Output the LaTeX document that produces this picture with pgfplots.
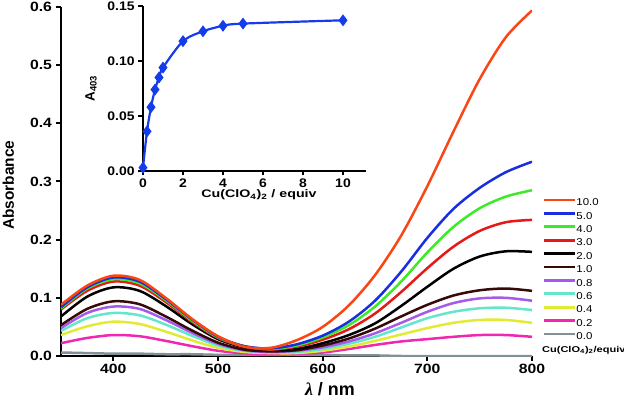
\documentclass[border=0pt]{standalone}
\usepackage{pgfplots}
\pgfplotsset{compat=1.18}
\usepackage{pgfplotstable}
\usepackage{fontspec}
\setmainfont{Liberation Sans}
\newfontfamily\seriffont{Liberation Serif}

\definecolor{c100}{RGB}{250,70,20}
\definecolor{c50}{RGB}{25,45,225}
\definecolor{c40}{RGB}{60,235,40}
\definecolor{c30}{RGB}{230,25,25}
\definecolor{c20}{RGB}{0,0,0}
\definecolor{c10}{RGB}{55,10,10}
\definecolor{c08}{RGB}{165,90,235}
\definecolor{c06}{RGB}{100,230,205}
\definecolor{c04}{RGB}{225,235,50}
\definecolor{c02}{RGB}{240,40,175}
\definecolor{c00}{RGB}{130,145,150}
\definecolor{iblue}{RGB}{20,60,235}

\pgfplotstableread{
lam c00 c02 c04 c06 c08 c10 c20 c30 c40 c50 c100
350 0.006 0.022 0.036 0.043 0.048 0.053 0.068 0.080 0.082 0.084 0.088
375 0.005 0.031 0.051 0.065 0.074 0.081 0.102 0.112 0.116 0.118 0.121
400 0.004 0.036 0.059 0.074 0.085 0.094 0.118 0.128 0.132 0.135 0.138
425 0.004 0.034 0.055 0.070 0.081 0.089 0.112 0.121 0.125 0.128 0.131
450 0.003 0.026 0.042 0.054 0.062 0.068 0.086 0.093 0.096 0.098 0.100
475 0.003 0.017 0.027 0.035 0.040 0.044 0.055 0.059 0.061 0.063 0.064
500 0.002 0.009 0.014 0.018 0.021 0.023 0.029 0.031 0.032 0.033 0.034
525 0.002 0.0045 0.007 0.009 0.010 0.011 0.015 0.016 0.017 0.017 0.016
550 0.002 0.003 0.005 0.006 0.007 0.008 0.010 0.011 0.012 0.013 0.014
575 0.002 0.004 0.005 0.007 0.009 0.010 0.012 0.016 0.018 0.020 0.027
600 0.002 0.006 0.009 0.012 0.015 0.018 0.022 0.028 0.032 0.035 0.050
625 0.001 0.012 0.016 0.021 0.025 0.030 0.036 0.046 0.053 0.059 0.087
650 0.001 0.019 0.026 0.033 0.039 0.047 0.056 0.073 0.085 0.095 0.139
675 0.000 0.025 0.037 0.049 0.057 0.068 0.086 0.110 0.128 0.145 0.207
700 0.000 0.029 0.048 0.065 0.076 0.088 0.119 0.151 0.178 0.203 0.292
725 0.000 0.033 0.057 0.076 0.091 0.104 0.150 0.188 0.222 0.253 0.386
750 0.000 0.036 0.062 0.082 0.099 0.113 0.171 0.215 0.254 0.289 0.476
775 0.000 0.036 0.062 0.083 0.100 0.116 0.180 0.230 0.274 0.316 0.548
800 0.000 0.033 0.057 0.079 0.095 0.112 0.179 0.234 0.285 0.334 0.594
}\spectra

\pgfplotstableread{
eq A
0 0.003
0.2 0.036
0.4 0.058
0.6 0.074
0.8 0.085
1 0.094
2 0.118
3 0.127
4 0.132
5 0.134
10 0.137
}\titration

\begin{document}
\begin{tikzpicture}
\useasboundingbox (-61bp,-47bp) rectangle (563bp,356bp);
\begin{axis}[
  name=main,
  at={(0,0)}, anchor=south west,
  scale only axis, width=471bp, height=349bp,
  xmin=350, xmax=800, ymin=0, ymax=0.6,
  axis x line*=bottom, axis y line*=left,
  axis line style={line width=2.5bp},
  every tick/.style={black, line width=2bp},
  major tick length=5bp,
  tick align=outside,
  xtick={400,500,600,700,800},
  ytick={0,0.1,0.2,0.3,0.4,0.5,0.6},
  /pgf/number format/assume math mode=true,
  tick label style={font=\bfseries\fontsize{13.5}{14}\selectfont, xscale=1.17},
  yticklabel style={/pgf/number format/fixed, /pgf/number format/fixed zerofill, /pgf/number format/precision=1},
  xlabel={{\seriffont\bfseries\itshape λ} / nm},
  xlabel style={font=\bfseries\fontsize{18}{18}\selectfont, at={(axis description cs:0.571,-0.074)}, anchor=north, inner sep=0pt},
  ylabel={Absorbance},
  ylabel style={font=\bfseries\fontsize{15.5}{16}\selectfont, at={(axis description cs:-0.112,0.489)}, anchor=center, inner sep=0pt},
  legend style={draw=none, fill=none, at={(axis description cs:1.0212,0.457)}, anchor=north west,
    font=\fontsize{10}{10}\selectfont, inner sep=0pt, row sep=0pt,
    nodes={inner sep=0.5bp, text height=8.5bp, text depth=3.9bp}},
  legend cell align=left,
  legend image code/.code={\draw[#1, line width=2.8bp] (0bp,3.5bp) -- (31bp,3.5bp);},
  reverse legend,
  sp/.style={line width=2.5bp, smooth, no marks},
]
\addplot[sp, c00] table[x=lam, y=c00] {\spectra}; \addlegendentry{\scalebox{1.15}[1]{0.0}}
\addplot[sp, c02] table[x=lam, y=c02] {\spectra}; \addlegendentry{\scalebox{1.15}[1]{0.2}}
\addplot[sp, c04] table[x=lam, y=c04] {\spectra}; \addlegendentry{\scalebox{1.15}[1]{0.4}}
\addplot[sp, c06] table[x=lam, y=c06] {\spectra}; \addlegendentry{\scalebox{1.15}[1]{0.6}}
\addplot[sp, c08] table[x=lam, y=c08] {\spectra}; \addlegendentry{\scalebox{1.15}[1]{0.8}}
\addplot[sp, c10] table[x=lam, y=c10] {\spectra}; \addlegendentry{\scalebox{1.15}[1]{1.0}}
\addplot[sp, c20] table[x=lam, y=c20] {\spectra}; \addlegendentry{\scalebox{1.15}[1]{2.0}}
\addplot[sp, c30] table[x=lam, y=c30] {\spectra}; \addlegendentry{\scalebox{1.15}[1]{3.0}}
\addplot[sp, c40] table[x=lam, y=c40] {\spectra}; \addlegendentry{\scalebox{1.15}[1]{4.0}}
\addplot[sp, c50] table[x=lam, y=c50] {\spectra}; \addlegendentry{\scalebox{1.15}[1]{5.0}}
\addplot[sp, c100] table[x=lam, y=c100] {\spectra}; \addlegendentry{\scalebox{1.15}[1]{10.0}}
\end{axis}

\node[anchor=west, font=\bfseries\fontsize{8.5}{9}\selectfont, inner sep=0pt] at ([xshift=10bp,yshift=6bp]main.south east) {\scalebox{1.3}[1]{Cu(ClO\textsubscript{4})\textsubscript{2}/equiv}};

\begin{axis}[
  at={(82bp,185bp)}, anchor=south west,
  scale only axis, width=223bp, height=165bp,
  xmin=0, xmax=11.15, ymin=0, ymax=0.15,
  clip=false,
  axis x line*=bottom, axis y line*=left,
  axis line style={line width=2bp},
  every tick/.style={black, line width=1.8bp},
  major tick length=4.5bp,
  tick align=outside,
  xtick={0,2,4,6,8,10},
  ytick={0,0.05,0.1,0.15},
  /pgf/number format/assume math mode=true,
  tick label style={font=\bfseries\fontsize{12.5}{13}\selectfont, xscale=1.12},
  yticklabel style={/pgf/number format/fixed, /pgf/number format/fixed zerofill, /pgf/number format/precision=2},
  xlabel={\scalebox{1.3}[1]{Cu(ClO\textsubscript{4})\textsubscript{2} / equiv}},
  xlabel style={font=\bfseries\fontsize{11}{11}\selectfont, at={(axis description cs:0.52,-0.112)}, anchor=north, inner sep=0pt},
  ylabel={A\textsubscript{403}},
  ylabel style={font=\bfseries\fontsize{13.5}{14}\selectfont, at={(axis description cs:-0.233,0.5)}, anchor=center, inner sep=0pt},
]
\addplot[iblue, line width=2.2bp, smooth, mark=diamond*, mark size=4.2bp, mark options={solid, fill=iblue}] table[x=eq, y=A] {\titration};
\end{axis}
\end{tikzpicture}
\end{document}
